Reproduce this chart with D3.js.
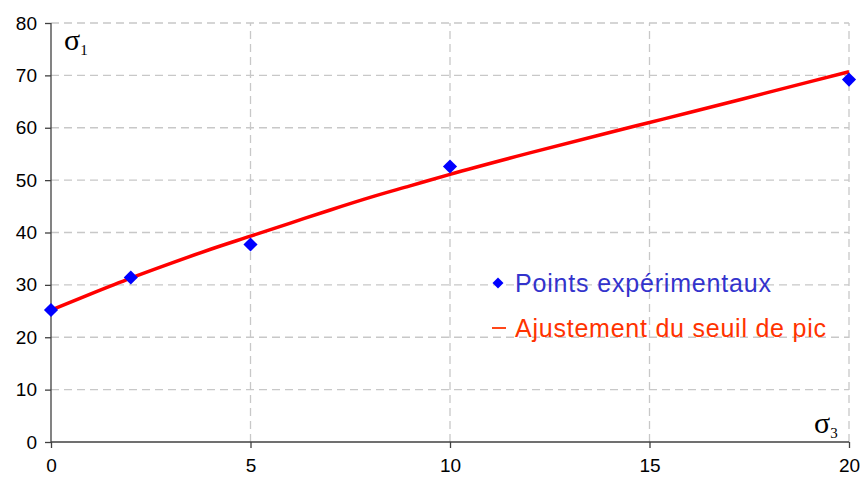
<!DOCTYPE html>
<html>
<head>
<meta charset="utf-8">
<script src="https://cdn.jsdelivr.net/npm/d3@7"></script>
<style>
  body { margin: 0; background: #fff; }
  svg { display: block; }
  .tick text { font-family: "Liberation Sans", Arial, sans-serif; font-size: 19px; fill: #000; }
</style>
</head>
<body>
<script>
// experimental points (sigma3, sigma1)
const pointsX = [0, 2, 5, 10, 20]
const pointsY = [25.2, 31.4, 37.7, 52.6, 69.2]

// fitted curve
const fitX = [0, 1, 2, 3, 4, 5, 6, 7, 8, 9, 10, 12, 14, 15, 16, 18, 20]
const fitY = [25.2, 28.3, 31.3, 34.1, 36.8, 39.3, 41.8, 44.3, 46.7, 48.9, 51.1, 55.2, 59.1, 61.0, 62.9, 66.8, 70.7]

const xTicks = [0, 5, 10, 15, 20]
const yTicks = [0, 10, 20, 30, 40, 50, 60, 70, 80]

const legendLabels = ["Points expérimentaux", "Ajustement du seuil de pic"]

const width = 864, height = 482
const margin = {left: 51, right: 15, top: 23, bottom: 40}

const svg = d3.select("body").append("svg")
    .attr("width", width)
    .attr("height", height)

const x = d3.scaleLinear().domain([0, 20]).range([margin.left, width - margin.right])
const y = d3.scaleLinear().domain([0, 80]).range([height - margin.bottom, margin.top])

// grid
svg.append("g")
    .selectAll("line")
    .data(yTicks.slice(1))
    .join("line")
    .attr("x1", x(0)).attr("x2", x(20))
    .attr("y1", d => y(d)).attr("y2", d => y(d))
    .attr("stroke", "#c8c8c8")
    .attr("stroke-width", 1.3)
    .attr("stroke-dasharray", "8,5")
svg.append("g")
    .selectAll("line")
    .data(xTicks.slice(1))
    .join("line")
    .attr("x1", d => x(d)).attr("x2", d => x(d))
    .attr("y1", y(0)).attr("y2", y(80))
    .attr("stroke", "#c8c8c8")
    .attr("stroke-width", 1.3)
    .attr("stroke-dasharray", "8,5")

// axes
const xAxis = svg.append("g")
    .attr("transform", `translate(0,${y(0)})`)
    .call(d3.axisBottom(x).tickValues(xTicks).tickSize(6).tickPadding(11).tickFormat(d3.format("d")))
const yAxis = svg.append("g")
    .attr("transform", `translate(${x(0)},0)`)
    .call(d3.axisLeft(y).tickValues(yTicks).tickSize(6).tickPadding(8).tickFormat(d3.format("d")))
svg.selectAll(".domain, .tick line").attr("stroke", "#404040").attr("stroke-width", 1.3)
xAxis.select(".domain").attr("d", `M${x(0)},0H${x(20)}`)
yAxis.select(".domain").attr("d", `M0,${y(0)}V${y(80)}`)

// fitted curve
const line = d3.line()
    .x((d, i) => x(fitX[i]))
    .y(d => y(d))
    .curve(d3.curveMonotoneX)
svg.append("path")
    .attr("d", line(fitY))
    .attr("fill", "none")
    .attr("stroke", "#ff0000")
    .attr("stroke-width", 3.5)

// points
const diamond = d3.symbol().type(d3.symbolSquare).size(100)
svg.append("g")
    .selectAll("path")
    .data(pointsY)
    .join("path")
    .attr("d", diamond)
    .attr("transform", (d, i) => `translate(${x(pointsX[i])},${y(d)}) rotate(45)`)
    .attr("fill", "#0000ff")

// axis titles
const sig1 = svg.append("text")
    .attr("x", 64).attr("y", 50)
    .attr("font-family", "'Liberation Serif', 'Times New Roman', serif")
    .attr("font-size", 30)
sig1.append("tspan").text("σ")
sig1.append("tspan").attr("font-size", 15).attr("dy", 5).text("1")

const sig3 = svg.append("text")
    .attr("x", 814).attr("y", 433)
    .attr("font-family", "'Liberation Serif', 'Times New Roman', serif")
    .attr("font-size", 30)
sig3.append("tspan").text("σ")
sig3.append("tspan").attr("font-size", 15).attr("dy", 5).text("3")

// legend
svg.append("path")
    .attr("d", d3.symbol().type(d3.symbolSquare).size(60))
    .attr("transform", "translate(498,283) rotate(45)")
    .attr("fill", "#0000ff")
svg.append("text")
    .attr("x", 515).attr("y", 292)
    .attr("font-family", "'Liberation Sans', Arial, sans-serif")
    .attr("font-size", 25)
    .attr("fill", "#3333cc")
    .attr("textLength", 256)
    .text(legendLabels[0])
svg.append("line")
    .attr("x1", 492).attr("x2", 506)
    .attr("y1", 328).attr("y2", 328)
    .attr("stroke", "#ff3300")
    .attr("stroke-width", 1.8)
svg.append("text")
    .attr("x", 515).attr("y", 337)
    .attr("font-family", "'Liberation Sans', Arial, sans-serif")
    .attr("font-size", 25)
    .attr("fill", "#ff3300")
    .attr("textLength", 311)
    .text(legendLabels[1])
</script>
</body>
</html>
